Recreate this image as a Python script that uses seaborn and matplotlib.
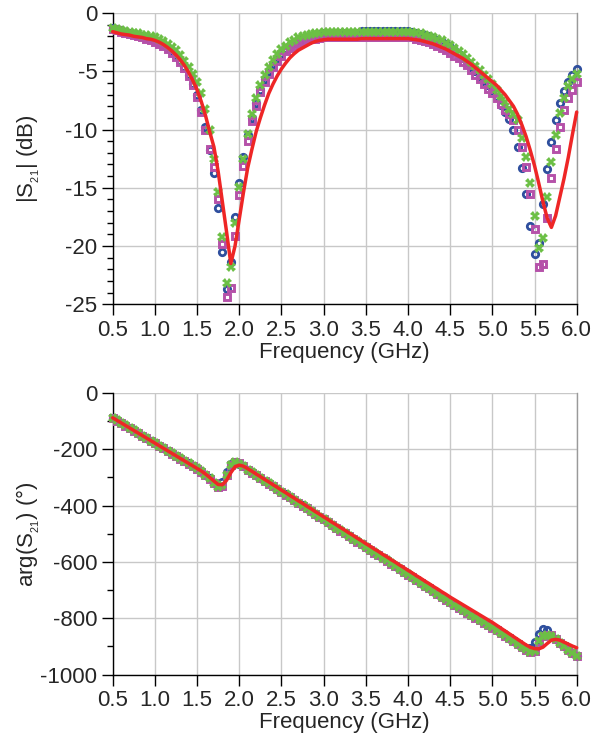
import matplotlib
matplotlib.use("Agg")
import matplotlib.pyplot as plt
import seaborn as sns
from matplotlib.ticker import MultipleLocator, FixedLocator, FormatStrFormatter

# ---------------- data ----------------
freq_ghz = [
    0.50, 0.55, 0.60, 0.65, 0.70, 0.75, 0.80, 0.85, 0.90, 0.95,
    1.00, 1.05, 1.10, 1.15, 1.20, 1.25, 1.30, 1.35, 1.40, 1.45,
    1.50, 1.55, 1.60, 1.65, 1.70, 1.75, 1.80, 1.85, 1.90, 1.95,
    2.00, 2.05, 2.10, 2.15, 2.20, 2.25, 2.30, 2.35, 2.40, 2.45,
    2.50, 2.55, 2.60, 2.65, 2.70, 2.75, 2.80, 2.85, 2.90, 2.95,
    3.00, 3.05, 3.10, 3.15, 3.20, 3.25, 3.30, 3.35, 3.40, 3.45,
    3.50, 3.55, 3.60, 3.65, 3.70, 3.75, 3.80, 3.85, 3.90, 3.95,
    4.00, 4.05, 4.10, 4.15, 4.20, 4.25, 4.30, 4.35, 4.40, 4.45,
    4.50, 4.55, 4.60, 4.65, 4.70, 4.75, 4.80, 4.85, 4.90, 4.95,
    5.00, 5.05, 5.10, 5.15, 5.20, 5.25, 5.30, 5.35, 5.40, 5.45,
    5.50, 5.55, 5.60, 5.65, 5.70, 5.75, 5.80, 5.85, 5.90, 5.95,
    6.00,
]

# |S21| (dB)
s21_db_circle = [
    -1.3, -1.4, -1.5, -1.6, -1.7, -1.8, -1.9, -2.0, -2.1, -2.25,
    -2.4, -2.55, -2.75, -3.0, -3.3, -3.7, -4.1, -4.6, -5.3, -6.1,
    -7.0, -8.3, -9.8, -11.8, -13.7, -16.7, -20.5, -23.7, -21.4, -17.5,
    -14.6, -12.4, -10.5, -9.0, -7.7, -6.6, -5.7, -5.0, -4.4, -3.9,
    -3.5, -3.1, -2.8, -2.55, -2.35, -2.2, -2.05, -1.95, -1.85, -1.8,
    -1.75, -1.7, -1.7, -1.7, -1.7, -1.7, -1.7, -1.7, -1.7, -1.55,
    -1.55, -1.55, -1.55, -1.55, -1.55, -1.55, -1.55, -1.55, -1.55, -1.55,
    -1.55, -1.6, -1.7, -1.8, -1.9, -2.0, -2.15, -2.3, -2.5, -2.7,
    -2.95, -3.2, -3.5, -3.85, -4.2, -4.6, -5.0, -5.4, -5.8, -6.2,
    -6.6, -7.2, -7.9, -8.5, -9.1, -10.0, -11.5, -13.3, -15.5, -18.3,
    -20.7, -19.7, -16.4, -13.4, -11.1, -9.2, -7.7, -6.7, -5.9, -5.3,
    -4.8,
]
s21_db_square = [
    -1.4, -1.5, -1.6, -1.7, -1.8, -1.9, -2.0, -2.1, -2.2, -2.35,
    -2.5, -2.65, -2.85, -3.1, -3.4, -3.8, -4.2, -4.7, -5.4, -6.2,
    -7.2, -8.5, -10.0, -11.7, -13.2, -16.0, -19.8, -24.4, -23.6, -19.1,
    -15.6, -13.1, -11.0, -9.3, -8.0, -6.8, -5.9, -5.2, -4.6, -4.1,
    -3.7, -3.3, -3.0, -2.8, -2.6, -2.45, -2.35, -2.25, -2.2, -2.15,
    -2.1, -2.1, -2.1, -2.1, -2.1, -2.1, -2.1, -2.1, -2.1, -2.05,
    -2.05, -2.05, -2.05, -2.05, -2.05, -2.05, -2.05, -2.05, -2.05, -2.05,
    -2.05, -2.1, -2.2, -2.3, -2.4, -2.5, -2.65, -2.8, -3.0, -3.2,
    -3.4, -3.65, -3.9, -4.2, -4.5, -4.9, -5.3, -5.7, -6.1, -6.5,
    -6.9, -7.3, -7.8, -8.3, -8.7, -9.2, -10.0, -11.5, -13.2, -15.5,
    -18.5, -21.8, -21.5, -17.6, -14.2, -11.7, -9.8, -8.3, -7.3, -6.6,
    -5.9,
]
s21_db_cross = [
    -1.3, -1.4, -1.5, -1.55, -1.6, -1.7, -1.75, -1.85, -1.9, -2.0,
    -2.1, -2.25, -2.4, -2.65, -2.9, -3.2, -3.6, -4.1, -4.6, -5.2,
    -5.9, -6.9, -8.2, -10.0, -12.5, -15.4, -19.2, -23.2, -21.8, -18.0,
    -14.9, -12.5, -10.4, -8.7, -7.3, -6.2, -5.3, -4.6, -4.0, -3.5,
    -3.1, -2.8, -2.5, -2.3, -2.1, -2.0, -1.9, -1.8, -1.75, -1.7,
    -1.65, -1.65, -1.65, -1.65, -1.65, -1.65, -1.65, -1.65, -1.65, -1.65,
    -1.6, -1.6, -1.6, -1.6, -1.6, -1.6, -1.6, -1.6, -1.6, -1.6,
    -1.6, -1.65, -1.7, -1.75, -1.85, -1.95, -2.05, -2.2, -2.35, -2.55,
    -2.75, -3.0, -3.25, -3.55, -3.85, -4.2, -4.55, -4.9, -5.3, -5.7,
    -6.1, -6.6, -7.1, -7.6, -8.2, -8.7, -9.2, -10.7, -12.4, -14.6,
    -17.4, -20.2, -19.3, -15.8, -12.8, -10.5, -8.6, -7.3, -6.3, -5.7,
    -5.2,
]
s21_db_line = [
    -1.6, -1.7, -1.8, -1.85, -1.9, -2.0, -2.05, -2.1, -2.2, -2.25,
    -2.35, -2.5, -2.7, -2.95, -3.25, -3.6, -4.0, -4.5, -5.1, -5.8,
    -6.6, -7.6, -8.8, -10.2, -11.5, -13.6, -16.2, -18.8, -21.5, -20.0,
    -17.7, -15.4, -13.3, -11.7, -10.2, -9.0, -7.9, -6.9, -6.1, -5.4,
    -4.8, -4.3, -3.85, -3.5, -3.2, -3.0, -2.8, -2.6, -2.45, -2.35,
    -2.3, -2.25, -2.25, -2.25, -2.25, -2.25, -2.25, -2.25, -2.25, -2.2,
    -2.2, -2.2, -2.2, -2.2, -2.2, -2.2, -2.2, -2.2, -2.2, -2.2,
    -2.2, -2.25, -2.3, -2.35, -2.45, -2.55, -2.65, -2.8, -2.95, -3.1,
    -3.3, -3.5, -3.7, -3.9, -4.15, -4.4, -4.7, -5.0, -5.3, -5.6,
    -5.9, -6.2, -6.6, -7.0, -7.5, -8.0, -8.7, -9.6, -10.6, -11.8,
    -13.1, -14.6, -16.2, -17.6, -18.4, -17.4, -15.8, -14.2, -12.4, -10.4,
    -8.5,
]

# arg(S21) (deg)
phase_circle = [
    -88, -97, -106, -115, -124, -133, -142, -151, -160, -169,
    -178, -187, -196, -205, -214, -223, -232, -241, -250, -259,
    -268, -278, -290, -303, -318, -330, -315, -282, -252, -246,
    -251, -261, -272, -282, -292, -301, -311, -321, -331, -341,
    -350, -360, -370, -380, -390, -399, -409, -419, -429, -439,
    -448, -458, -468, -478, -488, -497, -507, -517, -527, -537,
    -546, -556, -566, -576, -586, -595, -605, -615, -625, -635,
    -644, -654, -664, -674, -684, -693, -703, -713, -723, -733,
    -742, -752, -761, -770, -779, -788, -797, -806, -815, -824,
    -833, -842, -851, -861, -871, -881, -891, -901, -911, -905,
    -885, -855, -838, -843, -858, -873, -887, -899, -911, -923,
    -934,
]
phase_square = [
    -89, -98, -107, -116, -125, -134, -143, -152, -161, -170,
    -179, -188, -197, -206, -215, -224, -233, -242, -251, -260,
    -269, -279, -291, -304, -319, -335, -330, -292, -256, -245,
    -250, -261, -273, -283, -293, -302, -312, -322, -332, -342,
    -351, -361, -371, -381, -391, -400, -410, -420, -430, -440,
    -449, -459, -469, -479, -489, -498, -508, -518, -528, -538,
    -547, -557, -567, -577, -587, -596, -606, -616, -626, -636,
    -645, -655, -665, -675, -685, -694, -704, -714, -724, -734,
    -743, -753, -762, -771, -780, -789, -798, -807, -816, -825,
    -834, -843, -852, -862, -872, -882, -892, -902, -912, -921,
    -918, -885, -864, -858, -861, -874, -887, -900, -912, -924,
    -936,
]
phase_cross = [
    -88, -97, -106, -115, -124, -133, -142, -151, -160, -169,
    -178, -187, -196, -205, -214, -223, -232, -241, -250, -259,
    -268, -278, -290, -303, -318, -334, -328, -290, -255, -246,
    -251, -261, -272, -282, -292, -301, -311, -321, -331, -341,
    -350, -360, -370, -380, -390, -399, -409, -419, -429, -439,
    -448, -458, -468, -478, -488, -497, -507, -517, -527, -537,
    -546, -556, -566, -576, -586, -595, -605, -615, -625, -635,
    -644, -654, -664, -674, -684, -693, -703, -713, -723, -733,
    -742, -752, -761, -770, -779, -788, -797, -806, -815, -824,
    -833, -842, -851, -861, -871, -881, -891, -901, -911, -920,
    -915, -880, -862, -858, -862, -875, -888, -900, -912, -924,
    -935,
]
phase_line = [
    -88, -97, -106, -115, -124, -133, -142, -151, -160, -169,
    -178, -187, -196, -205, -214, -223, -232, -241, -250, -259,
    -268, -277, -288, -300, -313, -325, -326, -310, -283, -262,
    -256, -260, -269, -278, -288, -297, -307, -316, -326, -335,
    -345, -354, -364, -373, -383, -392, -402, -411, -421, -430,
    -440, -449, -459, -468, -478, -487, -497, -506, -516, -525,
    -535, -544, -554, -563, -573, -582, -592, -601, -611, -620,
    -630, -639, -649, -658, -668, -677, -687, -696, -706, -715,
    -725, -734, -743, -752, -761, -770, -779, -788, -797, -806,
    -815, -825, -835, -845, -855, -865, -875, -885, -895, -903,
    -908, -909, -903, -890, -878, -875, -878, -885, -892, -899,
    -905,
]

x_ticks = [0.5, 1.0, 1.5, 2.0, 2.5, 3.0, 3.5, 4.0, 4.5, 5.0, 5.5, 6.0]

# ---------------- style ----------------
BLUE = "#2f4f9e"
MAGENTA = "#b551a9"
GREEN = "#6cbf45"
RED = "#ee2626"
GRID = "#c8c8c8"
FS = 16

sns.set_theme(style="white")
plt.rcParams["font.family"] = ["Liberation Sans", "DejaVu Sans"]
plt.rcParams["axes.unicode_minus"] = False
plt.rcParams["mathtext.fontset"] = "custom"
plt.rcParams["mathtext.rm"] = "Liberation Sans"
plt.rcParams["mathtext.it"] = "Liberation Sans:italic"
plt.rcParams["mathtext.bf"] = "Liberation Sans:bold"

fig = plt.figure(figsize=(6.08, 7.44), dpi=100)
ax1 = fig.add_axes([0.18536, 0.59099, 0.76316, 0.39154])
ax2 = fig.add_axes([0.18536, 0.09341, 0.76316, 0.37836])


def draw(ax, yc, ys, yx, yl):
    sns.lineplot(x=freq_ghz, y=yc, ax=ax, color=BLUE, marker="o", linestyle="none",
                 markersize=4.6, markerfacecolor="none", markeredgecolor=BLUE,
                 markeredgewidth=2.0, clip_on=False, zorder=3)
    sns.lineplot(x=freq_ghz, y=ys, ax=ax, color=MAGENTA, marker="s", linestyle="none",
                 markersize=4.0, markerfacecolor="none", markeredgecolor=MAGENTA,
                 markeredgewidth=2.1, clip_on=False, zorder=4)
    sns.lineplot(x=freq_ghz, y=yx, ax=ax, color=GREEN, marker="X", linestyle="none",
                 markersize=7.0, markerfacecolor=GREEN, markeredgewidth=0,
                 clip_on=False, zorder=5)
    sns.lineplot(x=freq_ghz, y=yl, ax=ax, color=RED, linewidth=2.5,
                 clip_on=False, zorder=6)


def style(ax, ylo, major, minor, ylabel):
    ax.set_xlim(0.5, 6.0)
    ax.set_ylim(ylo, 0)
    ax.xaxis.set_major_locator(FixedLocator(x_ticks))
    ax.xaxis.set_major_formatter(FormatStrFormatter("%.1f"))
    ax.yaxis.set_major_locator(MultipleLocator(major))
    ax.yaxis.set_minor_locator(MultipleLocator(minor))
    ax.grid(True, which="major", color=GRID, linewidth=1.0)
    ax.set_axisbelow(True)
    ax.spines["top"].set_visible(False)
    ax.spines["right"].set_color("#9a9a9a")
    ax.spines["right"].set_linewidth(1.0)
    for s in ["left", "bottom"]:
        ax.spines[s].set_color("black")
        ax.spines[s].set_linewidth(1.0)
    ax.tick_params(axis="both", which="major", direction="out", length=8, width=1,
                   color="black", labelsize=FS, pad=3, left=True, bottom=True)
    ax.tick_params(axis="y", which="minor", direction="out", length=4, width=1,
                   color="black", left=True)
    ax.tick_params(axis="x", which="minor", bottom=False)
    ax.set_xlabel("Frequency (GHz)", fontsize=FS, labelpad=1)
    ax.set_ylabel(ylabel, fontsize=FS)
    ax.yaxis.set_label_coords(-0.152, 0.5)
    ax.yaxis.label.set_va("bottom")


draw(ax1, s21_db_circle, s21_db_square, s21_db_cross, s21_db_line)
style(ax1, -25, 5, 1, r"|S$_{_{21}}$| (dB)")

draw(ax2, phase_circle, phase_square, phase_cross, phase_line)
style(ax2, -1000, 200, 100, r"arg(S$_{_{21}}$) (°)")

for ax in (ax1, ax2):
    if ax.get_legend() is not None:
        ax.get_legend().remove()

fig.savefig("out.png", dpi=100)
